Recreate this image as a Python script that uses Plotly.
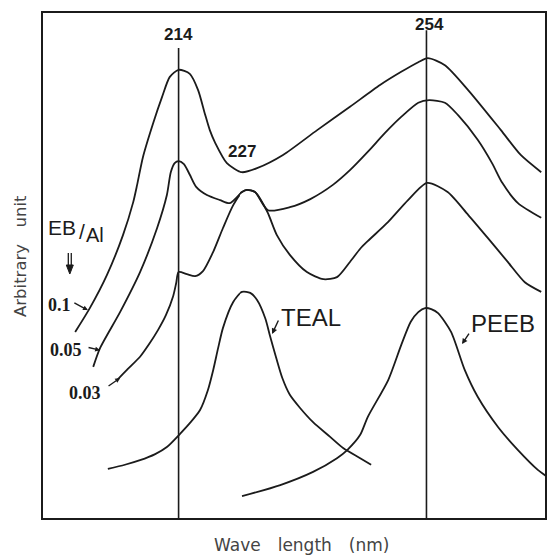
import plotly.graph_objects as go

# UV absorption spectra: wavelength (nm) vs. absorbance (arbitrary units)
# EB/Al ratio series, then the two reference compounds.
wl_eb_01 = [192.8, 195.8, 199.3, 202.6, 204.7, 205.5, 206.7, 208.8, 210.6, 212.2, 214.0,
            216.3, 218.0, 219.4, 220.4, 221.5, 223.9, 227.0, 229.2, 233.0, 238.0, 242.8,
            247.2, 250.3, 252.8, 254.2, 256.7, 260.1, 264.9, 267.8, 270.8]
ab_eb_01 = [36.9, 41.6, 48.1, 56.0, 62.5, 65.9, 71.4, 78.1, 83.2, 87.2, 88.6,
            87.8, 84.6, 79.9, 76.7, 74.2, 70.2, 68.4, 69.2, 71.8, 76.7, 81.3,
            85.6, 88.2, 90.1, 90.9, 89.5, 84.6, 76.7, 71.8, 68.4]

wl_eb_005 = [196.5, 197.9, 202.0, 206.1, 209.6, 211.6, 212.4, 213.2, 214.0, 215.1, 216.3,
             217.6, 219.8, 222.5, 224.5, 227.0, 227.7, 228.9, 230.8, 234.0, 237.0, 240.3,
             242.8, 245.4, 247.9, 250.3, 252.8, 254.4, 256.7, 258.6, 261.5, 263.6, 265.1,
             267.4, 270.8]
ab_eb_005 = [30.0, 33.7, 40.8, 48.7, 57.4, 63.9, 68.4, 70.2, 70.6, 70.0, 67.9,
             65.5, 63.9, 62.9, 62.3, 64.5, 64.9, 64.5, 60.9, 61.5, 63.1, 65.9,
             68.8, 72.4, 76.1, 79.3, 82.1, 82.6, 82.1, 79.7, 74.8, 70.2, 66.3,
             62.3, 59.4]

wl_eb_003 = [201.4, 203.6, 206.1, 208.1, 209.8, 211.4, 212.9, 213.5, 214.0, 215.7, 217.4,
             219.0, 221.1, 223.1, 225.2, 227.0, 227.7, 228.9, 230.7, 232.1, 234.0, 236.5,
             238.9, 240.9, 242.8, 244.3, 245.4, 248.4, 251.3, 254.1, 257.1, 260.1, 263.0,
             265.9, 268.4, 270.8]
ab_eb_003 = [27.4, 29.6, 32.0, 34.7, 37.3, 40.2, 44.0, 46.5, 48.7, 48.3, 47.9,
             48.9, 52.7, 57.4, 61.9, 64.5, 64.9, 64.5, 60.6, 56.0, 52.1, 48.7,
             47.3, 47.7, 50.7, 53.3, 54.8, 58.6, 62.9, 66.3, 64.5, 60.0, 55.4,
             50.7, 46.7, 44.8]

wl_teal = [199.5, 203.0, 206.1, 209.2, 211.6, 214.3, 216.3, 218.4, 220.0, 221.1, 222.1,
           223.1, 225.2, 227.0, 228.2, 229.2, 230.4, 231.1, 232.0, 232.9, 234.0, 235.5,
           237.4, 239.9, 241.8, 244.3, 245.9]
ab_teal = [9.9, 10.7, 11.6, 12.8, 14.2, 16.8, 18.9, 21.5, 25.4, 29.4, 33.7,
           37.7, 42.8, 44.8, 44.6, 43.2, 39.6, 36.1, 31.8, 27.8, 24.5, 21.9,
           19.1, 16.2, 14.0, 12.0, 10.7]

wl_peeb = [227.0, 232.6, 237.4, 240.9, 242.4, 244.3, 245.4, 248.4, 250.3, 251.7, 252.8,
           253.8, 254.7, 255.7, 257.6, 259.6, 261.5, 264.5, 267.4, 270.3, 271.5]
ab_peeb = [4.5, 6.7, 9.3, 12.0, 13.6, 16.6, 20.1, 27.4, 34.3, 38.9, 40.8,
           41.6, 41.4, 40.6, 36.9, 29.4, 24.1, 18.1, 13.6, 9.7, 8.5]

# Band maxima marked by vertical lines, and how high each line reaches
peak_wl = [214, 227, 254]
peak_top = [92.9, 67.3, 96.4]

ratio_labels = ["0.1", "0.05", "0.03"]

# The wavelength axis uses a different scale below and above 227 nm;
# the two scales overlap by a couple of pixels so that curves join smoothly.
SPLIT = 227.0
X1_RANGE = [186.0, 227.4]
X2_RANGE = [226.7, 271.5]
X1_DOMAIN = [0.0, 0.4007]
X2_DOMAIN = [0.3928, 1.0]

INK = "#1b1b1b"

fig = go.Figure()


def axis_of(w):
    return "x" if w <= SPLIT else "x2"


def add_spectrum(wl, ab, name):
    pts = list(zip(wl, ab))
    below = [i for i, (w, _) in enumerate(pts) if w <= SPLIT]
    above = [i for i, (w, _) in enumerate(pts) if w >= SPLIT]
    # each part carries one neighbouring point across the break so the
    # spline keeps its direction through it; the subplot clips the excess
    parts = []
    if below:
        parts.append((pts[:min(below[-1] + 2, len(pts))], "x"))
    if above:
        parts.append((pts[max(above[0] - 1, 0):], "x2"))
    for seg, ax in parts:
        if len(seg) < 2:
            continue
        fig.add_trace(go.Scatter(
            x=[p[0] for p in seg], y=[p[1] for p in seg],
            xaxis=ax, yaxis="y", mode="lines", name=name,
            line=dict(color=INK, width=1.8, shape="spline", smoothing=0.7),
            showlegend=False, hoverinfo="skip"))


add_spectrum(wl_eb_01, ab_eb_01, "EB/Al 0.1")
add_spectrum(wl_eb_005, ab_eb_005, "EB/Al 0.05")
add_spectrum(wl_eb_003, ab_eb_003, "EB/Al 0.03")
add_spectrum(wl_teal, ab_teal, "TEAL")
add_spectrum(wl_peeb, ab_peeb, "PEEB")

for w, top in zip(peak_wl, peak_top):
    fig.add_trace(go.Scatter(
        x=[w, w], y=[0, top], xaxis=axis_of(w), yaxis="y", mode="lines",
        line=dict(color=INK, width=1.6), showlegend=False, hoverinfo="skip"))

annotations = []


def note(x, y, text, font, xref="paper", yref="paper", **kw):
    annotations.append(dict(x=x, y=y, xref=xref, yref=yref, text=text, showarrow=False,
                            xanchor="center", yanchor="middle", font=font, **kw))


def pointer(x, y, dx, dy, xref, size=0.8):
    annotations.append(dict(x=x, y=y, xref=xref, yref="y", text="", showarrow=True,
                            ax=dx, ay=dy, arrowhead=2, arrowsize=size, arrowwidth=1.4,
                            arrowcolor=INK))


# peak wavelength labels
label_font = dict(family="Liberation Sans", size=17, color=INK)
note(214, 95.5, "<b>%d</b>" % peak_wl[0], label_font, xref="x", yref="y")
note(227, 72.4, "<b>%d</b>" % peak_wl[1], label_font, xref="x", yref="y")
note(254.5, 97.6, "<b>%d</b>" % peak_wl[2], label_font, xref="x2", yref="y")

# compound labels with pointers
name_font = dict(family="Liberation Sans", size=24, color=INK)
note(237.1, 39.8, "TEAL", name_font, xref="x2", yref="y")
pointer(231.4, 36.5, 7, -15, "x2")
note(265.2, 38.5, "PEEB", name_font, xref="x2", yref="y")
pointer(259.2, 34.5, 8, -12, "x2")

# EB/Al ratio labels
ratio_font = dict(family="Liberation Serif", size=18, color=INK)
for text, xp, yp in zip(ratio_labels, [0.0357, 0.0476, 0.0853], [0.422, 0.333, 0.2485]):
    note(xp, yp, "<b>%s</b>" % text, ratio_font)
for tx, ty, dx, dy in [(195.4, 41.2, -15, -8), (197.9, 33.3, -13, -3), (202.0, 27.8, -13, 9)]:
    pointer(tx, ty, dx, dy, "x", size=0.7)

note(0.0397, 0.574, "EB", dict(family="Liberation Sans", size=21, color=INK))
note(0.0784, 0.568, "/", dict(family="Liberation Sans", size=21, color=INK))
note(0.1052, 0.560, "Al", dict(family="Liberation Sans", size=20, color=INK))

# axis titles
note(-0.0437, 0.5187, "Arbitrary\u2003unit",
     dict(family="DejaVu Sans", size=16.5, color="#444444"), textangle=-90)
note(0.5139, -0.0513, "Wave\u2003length\u2003(nm)",
     dict(family="DejaVu Sans", size=17, color="#444444"))

shapes = [
    dict(type="rect", xref="paper", yref="paper", x0=0, x1=1, y0=0, y1=1,
         line=dict(color=INK, width=2)),
    # downward double arrow under EB/Al
    dict(type="line", xref="paper", yref="paper", x0=0.0522, x1=0.0522, y0=0.5247, y1=0.499,
         line=dict(color=INK, width=1.3)),
    dict(type="line", xref="paper", yref="paper", x0=0.0581, x1=0.0581, y0=0.5247, y1=0.499,
         line=dict(color=INK, width=1.3)),
    dict(type="path", xref="paper", yref="paper",
         path="M 0.0482 0.501 L 0.0621 0.501 L 0.0552 0.4832 Z",
         fillcolor=INK, line=dict(color=INK, width=1)),
]

hidden = dict(showgrid=False, zeroline=False, showline=False, showticklabels=False,
              ticks="", fixedrange=True)

fig.update_layout(
    width=548, height=555,
    margin=dict(l=42, r=2, t=12, b=36),
    paper_bgcolor="white", plot_bgcolor="white",
    xaxis=dict(domain=X1_DOMAIN, range=X1_RANGE, anchor="y", **hidden),
    xaxis2=dict(domain=X2_DOMAIN, range=X2_RANGE, anchor="y", **hidden),
    yaxis=dict(range=[0, 100], anchor="x", **hidden),
    annotations=annotations,
    shapes=shapes,
    showlegend=False,
)

fig.write_html("out.html")
